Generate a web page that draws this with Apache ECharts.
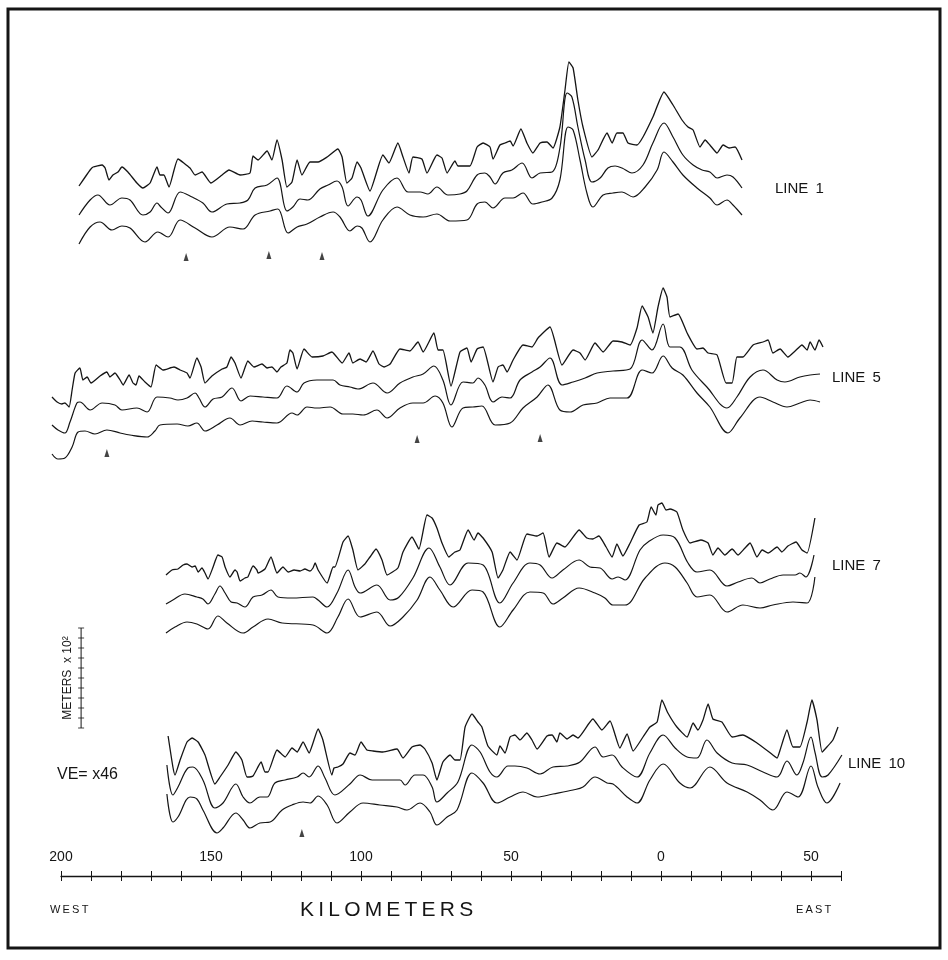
<!DOCTYPE html>
<html>
<head>
<meta charset="utf-8">
<script src="https://cdn.jsdelivr.net/npm/echarts@6/dist/echarts.min.js"></script>
<style>
  html, body { margin: 0; padding: 0; background: #fff; }
  #chart { width: 948px; height: 960px; }
</style>
</head>
<body>
<div id="chart"></div>
<script>
// Each profile: [km from 0 (west negative), relief in m relative to the profile start]
const line1Top = [[-194,0],[-190.3,160],[-189.3,190],[-186.3,210],[-185.3,180],[-184,60],[-182.7,110],[-181,140],[-179.7,190],[-177.7,140],[-174.7,30],[-172.7,-20],[-170.3,30],[-168,190],[-167,110],[-165.7,110],[-164,-10],[-161,270],[-157,180],[-155.3,110],[-153,140],[-150,30],[-146.3,110],[-144,160],[-140.3,110],[-137,130],[-136,300],[-134.3,260],[-131.3,350],[-129.7,260],[-128,460],[-126.3,260],[-124.7,-10],[-123,40],[-121.3,260],[-119.7,110],[-117,240],[-114.3,240],[-111.3,290],[-107.7,370],[-106.3,290],[-104.7,30],[-103,80],[-101.3,240],[-100,180],[-97,-50],[-92.7,310],[-90.7,230],[-87.7,430],[-86,290],[-84,130],[-82.7,290],[-79.7,270],[-78,130],[-74.7,310],[-73,280],[-71.3,130],[-68.7,250],[-67.7,200],[-63.7,200],[-61.3,390],[-59.3,430],[-57,390],[-56,270],[-53.7,410],[-52,430],[-50.3,450],[-49.3,400],[-46.7,570],[-44.7,430],[-42.7,330],[-40.3,430],[-38,440],[-36,380],[-33.7,590],[-32,960],[-30.7,1240],[-29.3,1180],[-27.7,860],[-26,590],[-23,290],[-21,360],[-18,530],[-16.3,430],[-14.7,530],[-12.7,530],[-11,430],[-8,410],[-6,490],[-2.7,690],[1,940],[4,810],[7,660],[9,590],[10.7,560],[13,390],[14.7,460],[16.3,410],[18.7,330],[20.7,410],[22.7,380],[24.7,390],[27,260]];
const line1Mid = [[-194,0],[-190.3,150],[-187.7,200],[-183.7,100],[-179.7,170],[-177,150],[-172.7,0],[-170.3,30],[-168,120],[-166.7,80],[-164.3,20],[-160.3,230],[-156.3,180],[-152.7,120],[-149.7,30],[-144.7,110],[-140.3,120],[-137.7,150],[-135.3,270],[-131.3,300],[-128,370],[-124.7,40],[-122.7,80],[-120.3,160],[-117.7,150],[-113.7,260],[-111,300],[-108,340],[-106.3,280],[-104.3,90],[-101.3,180],[-100,150],[-97.7,-10],[-92.7,250],[-88,370],[-84.3,230],[-80.3,230],[-77.7,210],[-74.7,280],[-71,200],[-67,210],[-64.7,240],[-61.3,400],[-58.7,420],[-57,380],[-55.3,310],[-52.7,420],[-49.7,450],[-46.3,520],[-43,370],[-40.3,420],[-36.3,430],[-33.7,670],[-31.3,1220],[-29.7,1180],[-27.7,880],[-25.3,550],[-23,330],[-20.3,370],[-17.7,470],[-15.3,490],[-13,470],[-9.7,420],[-6,500],[-2.7,720],[1,920],[4,780],[7.3,600],[10.7,500],[13.7,450],[16.3,430],[18.7,370],[22,400],[24,380],[27,270]];
const line1Low = [[-194,0],[-190.3,170],[-187,220],[-183,140],[-179.7,180],[-177,160],[-172,20],[-167.7,120],[-164.3,70],[-160.3,240],[-155.3,160],[-149.7,70],[-143.7,170],[-139.3,150],[-135.3,290],[-130.3,330],[-127.7,350],[-124.3,110],[-121.3,170],[-118,200],[-113.7,270],[-109.3,320],[-107,270],[-103.7,130],[-101.3,180],[-99.7,160],[-97,20],[-92.7,240],[-88,370],[-83.7,290],[-79.3,270],[-74.7,300],[-70.3,230],[-64.7,240],[-61.3,400],[-58.7,420],[-56,360],[-52,460],[-49.3,460],[-46,510],[-42.7,400],[-39.7,420],[-36.3,460],[-33.7,640],[-31,1170],[-29.3,1140],[-27,840],[-24.7,510],[-22.7,370],[-19.3,490],[-16,510],[-13,520],[-9.3,470],[-5.3,570],[-1.3,740],[1,920],[4,820],[7.3,690],[12,560],[16.3,460],[18.7,390],[22,440],[24,390],[27,290]];

const line5Top = [[-203,0],[-201.3,-50],[-199.7,-70],[-198.7,-60],[-197.3,-100],[-196.3,70],[-195.3,240],[-193.7,290],[-192.7,170],[-191.3,200],[-190,140],[-187,210],[-184.7,250],[-183.7,200],[-182,240],[-180.3,170],[-179.3,120],[-177.3,220],[-176,140],[-175,120],[-174,210],[-172,150],[-170,100],[-168.3,320],[-166,270],[-162.3,300],[-160.3,270],[-158,240],[-157,190],[-154.7,390],[-153.3,300],[-152,140],[-149.7,210],[-146.3,280],[-144.7,300],[-143.3,400],[-142,340],[-140,190],[-137.7,360],[-135.7,300],[-133,330],[-131.3,290],[-129.7,300],[-128,250],[-126.7,300],[-124.7,340],[-123.7,470],[-122.7,440],[-121.3,280],[-119,480],[-116.3,400],[-112.7,410],[-109.7,450],[-106.3,340],[-104,440],[-102.7,340],[-100.3,380],[-98.3,350],[-96,460],[-94,330],[-92.3,300],[-90.3,330],[-87,480],[-83.7,460],[-81,550],[-79.3,450],[-75.7,640],[-74.3,470],[-72.7,470],[-70,110],[-67,450],[-64.7,490],[-63.3,350],[-61.3,480],[-59.3,500],[-56,150],[-54.3,300],[-52.7,320],[-51.3,250],[-49.3,370],[-46,520],[-43,500],[-41,590],[-37,700],[-33,320],[-29.3,470],[-27,440],[-25.3,370],[-22,540],[-19.3,450],[-16,560],[-13,550],[-10.3,520],[-8,690],[-6.3,910],[-4.3,800],[-2.7,640],[-1,900],[0.7,1090],[2,1000],[3,800],[5.7,830],[8.7,640],[12,480],[14,490],[15.7,440],[18.7,420],[21.7,140],[23.7,140],[25.3,400],[27.3,400],[30.7,520],[34,550],[35.7,570],[37.3,440],[39.7,480],[42.3,400],[44.7,460],[47,520],[48.7,470],[49.7,550],[51.3,470],[52.7,570],[54,500]];
const line5Mid = [[-203,0],[-201,-50],[-198.7,-80],[-197,30],[-194.7,220],[-193.7,230],[-190.3,150],[-186.3,220],[-182,200],[-179.7,150],[-174.7,170],[-171.3,130],[-168,280],[-163.7,270],[-161,250],[-158,270],[-155.3,320],[-154,270],[-152,180],[-149.3,260],[-146.3,280],[-143,370],[-140,240],[-137,290],[-132.7,280],[-128,270],[-124.7,390],[-121.3,330],[-119,420],[-114.7,450],[-109.3,450],[-107,400],[-103.7,380],[-101,360],[-96,420],[-91.3,320],[-87,420],[-82.7,480],[-79.3,510],[-75.7,590],[-72.7,450],[-70,200],[-66,430],[-62.7,420],[-61,470],[-58.7,400],[-56,230],[-53,280],[-50.3,270],[-47,450],[-43,530],[-40.3,580],[-37,670],[-33,400],[-29.3,430],[-25.3,470],[-21.3,520],[-16,540],[-10.3,560],[-6.3,850],[-3,750],[0.7,1010],[3,780],[6.3,780],[10.3,550],[15.3,380],[22,170],[25.3,280],[29.7,480],[34,550],[38.7,450],[41.3,430],[46.3,480],[49.7,500],[53,510]];
const line5Low = [[-203,0],[-201,-50],[-198.7,-40],[-196.3,70],[-194.3,220],[-192,230],[-188.7,200],[-184.7,240],[-180.3,210],[-177,190],[-171.3,170],[-168.7,230],[-167,290],[-161.3,300],[-157.7,280],[-154.7,310],[-152,230],[-148,290],[-143.7,360],[-140.3,290],[-136.3,330],[-132.7,320],[-128,310],[-123,410],[-121.3,390],[-118,470],[-114.7,460],[-110.3,470],[-106,400],[-102.7,400],[-99.3,390],[-94.7,440],[-91.3,360],[-87,460],[-82.7,510],[-79.3,510],[-75.3,580],[-72.7,510],[-69.7,270],[-66,460],[-62.7,470],[-59.7,480],[-55.3,290],[-50.3,310],[-46,460],[-41.3,570],[-37.7,690],[-33.7,440],[-30.3,420],[-26,490],[-21.3,510],[-17,560],[-11.3,560],[-6.3,840],[-3,810],[0.7,980],[3.7,860],[7.3,790],[12,610],[16.3,470],[22.3,210],[26.3,360],[33,570],[37.3,520],[42,470],[46.3,510],[49.7,540],[53,520]];

const line7Top = [[-165,0],[-163,50],[-161,60],[-159.3,100],[-158,110],[-156.3,80],[-155.3,90],[-154.3,30],[-153,70],[-152,20],[-151,-40],[-149.3,80],[-147.7,200],[-146.3,180],[-145.3,80],[-143.7,-20],[-142,50],[-141.3,30],[-140.3,-60],[-138.7,-30],[-137.7,-20],[-136,90],[-134.7,50],[-134.3,20],[-132,60],[-130,180],[-128,20],[-126,80],[-124.3,30],[-122.3,50],[-120.3,40],[-118.7,60],[-117,40],[-116,70],[-115.3,120],[-114.3,50],[-111.3,-80],[-109.3,80],[-108.7,80],[-106,330],[-104.3,390],[-102.7,250],[-101,50],[-98.7,110],[-97,180],[-95,260],[-93,150],[-91.3,0],[-87.7,70],[-86,230],[-83,380],[-80.7,260],[-78,600],[-76.3,570],[-74.7,470],[-73,320],[-70.7,180],[-68.7,230],[-67,250],[-64.3,450],[-62.3,350],[-61,420],[-59.3,370],[-56.3,230],[-54.3,-30],[-52.7,50],[-50.3,230],[-48,150],[-44.7,410],[-41.3,390],[-39.3,420],[-37.3,180],[-34.7,320],[-32,280],[-27.3,450],[-24.7,370],[-22.7,360],[-20.7,390],[-18.3,280],[-16.3,180],[-14.7,310],[-12.7,190],[-10.3,320],[-7.3,500],[-4.7,530],[-3.3,680],[-1.7,600],[-1,700],[0.3,720],[1.7,650],[3,660],[5.3,630],[7.3,450],[9.7,320],[13.3,350],[15.7,320],[17.3,200],[19,270],[21.3,200],[23.7,260],[25.7,200],[28,270],[29.7,320],[32,180],[33.7,250],[35.7,220],[38.7,280],[40.3,230],[42.3,290],[45,330],[47,250],[48.7,220],[51.3,570]];
const line7Mid = [[-165,0],[-162.7,40],[-158.7,100],[-154.7,70],[-152.7,50],[-151,0],[-148.7,100],[-147,180],[-145.3,110],[-143.3,20],[-141.3,10],[-138.7,-30],[-136,70],[-133,90],[-130,140],[-127.7,70],[-123,60],[-116,70],[-114.3,40],[-111.3,-30],[-108,110],[-104.3,340],[-102,170],[-100.3,110],[-94.7,190],[-90.3,40],[-87.3,70],[-82.7,260],[-77.3,560],[-73.7,370],[-70.3,190],[-64.3,410],[-59.3,390],[-53.7,10],[-49.3,210],[-43.7,410],[-40.3,390],[-36.3,260],[-32.7,340],[-27.3,440],[-23.7,370],[-20.3,360],[-16.3,250],[-14.3,270],[-12,240],[-7,540],[-4.3,620],[0.7,690],[4.7,660],[9,410],[12,320],[16.3,340],[22,180],[25.7,220],[30.3,260],[33,210],[36.3,250],[40.7,290],[44.7,290],[46.3,310],[48.3,270],[51,490]];
const line7Low = [[-165,0],[-162,60],[-158,110],[-154.7,90],[-151,40],[-147.7,170],[-144.7,100],[-139.3,0],[-136,60],[-131,140],[-126.3,100],[-116,80],[-111.3,0],[-107.7,160],[-104.3,340],[-100.3,160],[-94.7,210],[-90.3,70],[-86,160],[-81.3,330],[-77,560],[-73.7,430],[-69.3,260],[-63,430],[-59.3,410],[-53.7,60],[-49.3,230],[-43.7,410],[-39.3,400],[-36,290],[-32.7,350],[-27.3,450],[-22,400],[-18.7,350],[-16,280],[-12,280],[-5.3,550],[1.3,700],[4.7,660],[8.7,500],[12,360],[16.3,380],[22,210],[27.3,280],[33,250],[37.3,280],[44,310],[48.7,300],[51.3,560]];

const line10Top = [[-164.3,0],[-162.7,-310],[-162,-390],[-160.3,-240],[-158,-60],[-156.3,-20],[-154.3,-60],[-152,-190],[-148.7,-480],[-147,-410],[-144.3,-290],[-141.7,-160],[-139.7,-240],[-138,-410],[-136,-400],[-133.3,-260],[-132,-360],[-131,-360],[-128,-140],[-125.3,-210],[-123,-120],[-121.3,-160],[-119.3,-60],[-117.3,-170],[-116,-70],[-114.3,70],[-112.7,-40],[-109.7,-390],[-109,-320],[-107.7,-310],[-106,-280],[-103.7,-170],[-102,-190],[-100,-60],[-98,-140],[-96,-150],[-92.7,-160],[-88,-130],[-86,-220],[-83,-110],[-80.3,-90],[-78.7,-130],[-76.3,-270],[-74.7,-440],[-72.7,-260],[-70.3,-190],[-68.7,-240],[-67,-240],[-65.3,90],[-63,220],[-61,140],[-59.7,90],[-57.7,-100],[-54.7,-190],[-53.7,-100],[-52,-170],[-50.3,-10],[-48.7,10],[-47,-40],[-44.7,30],[-43,-40],[-41.3,-130],[-38,0],[-36.3,10],[-34.7,-60],[-33.7,30],[-31.3,-30],[-29.3,10],[-27.7,-20],[-22.7,170],[-19.7,60],[-17,150],[-13.7,-120],[-11.3,20],[-9.3,-150],[-6,-10],[-3.7,90],[-1.3,140],[0.3,360],[2.3,230],[5.3,90],[8.7,-10],[10.7,130],[12.3,60],[14,160],[15.7,320],[17.3,170],[20.3,140],[23.7,-10],[27.3,10],[32,-70],[37.3,-190],[38.7,-220],[39.7,-140],[42,60],[44,-110],[46.3,-110],[48.7,140],[50.3,360],[52,160],[53.7,-160],[55.3,-110],[57.3,-40],[59,90]];
const line10Mid = [[-164.7,0],[-162.7,-300],[-161,-220],[-157.7,-30],[-156,-20],[-152.7,-150],[-148.7,-430],[-146,-380],[-141.7,-190],[-139.3,-320],[-137,-380],[-133.7,-320],[-131.3,-320],[-128.7,-180],[-125.3,-150],[-121.3,-120],[-119.3,-80],[-117.3,-120],[-114.3,-10],[-112,-130],[-108.7,-300],[-103.7,-190],[-100.3,-100],[-96.3,-150],[-92.7,-150],[-87,-150],[-85.3,-200],[-82,-100],[-79.3,-100],[-76.3,-220],[-74.7,-370],[-71.3,-280],[-67.7,-170],[-63,200],[-60.3,130],[-57,-70],[-54.7,-120],[-51,-10],[-48.7,-10],[-44.7,-30],[-40.3,-90],[-36,-20],[-31.3,-10],[-27,30],[-22,180],[-19.3,80],[-16.3,100],[-13,-20],[-8,-120],[-3.7,120],[0.7,300],[4.7,170],[8.7,80],[12,70],[15.3,250],[18.7,120],[23.7,20],[28.7,0],[34,-70],[38.7,-120],[42,40],[45.3,-100],[47.3,20],[50,280],[51.3,130],[53.7,-120],[55.7,-100],[60.3,100]];
const line10Low = [[-164.7,0],[-162.7,-280],[-161,-230],[-157,-30],[-154.7,-50],[-152.7,-160],[-148,-390],[-146,-340],[-141.7,-190],[-139.3,-260],[-137,-340],[-133.7,-290],[-130.3,-280],[-126.3,-160],[-123,-110],[-119.3,-80],[-117,-90],[-114.3,-20],[-111.3,-110],[-108,-290],[-103.7,-180],[-99.3,-90],[-93.7,-110],[-88,-130],[-84.7,-160],[-80.3,-90],[-77,-180],[-74.7,-310],[-71.3,-230],[-68,-160],[-63,210],[-59.3,110],[-54.7,-90],[-50.3,-30],[-46,20],[-41.3,-30],[-36,0],[-29.3,40],[-26,70],[-22,170],[-18,110],[-16,100],[-11.3,-30],[-8,-90],[-3.7,140],[0.7,300],[6.3,110],[9.7,60],[16.3,270],[22,110],[28.7,20],[33,-60],[37.3,-160],[42,20],[45.7,-30],[50,280],[52.3,70],[55.3,-90],[59.7,110]];

// where each profile starts, m above the bottom of the figure
const offsets1 = [6900, 6610, 6320];
const offsets5 = [4790, 4510, 4220];
const offsets7 = [3010, 2720, 2430];
const offsets10 = [1400, 1110, 820];

// small triangles under the profiles
const markers1 = [[-158.3, 6190], [-130.7, 6210], [-113, 6200]];
const markers5 = [[-184.7, 4230], [-81.3, 4370], [-40.3, 4380]];
const markers10 = [[-119.7, 430]];

// vertical scale, 100 m steps
const scaleKm = -193.3;
const scaleTicks = [1480, 1580, 1680, 1780, 1880, 1980, 2080, 2180, 2280, 2380, 2480];

const lineLabels = ['LINE\u2009 1', 'LINE\u2009 5', 'LINE\u2009 7', 'LINE\u2009 10'];

const chart = echarts.init(document.getElementById('chart'), null, { renderer: 'canvas' });

const ink = '#151515';
const font = '"Liberation Sans", Arial, sans-serif';

function profile(pts, offset, smooth, width) {
  return {
    type: 'line',
    xAxisIndex: 0,
    yAxisIndex: 0,
    data: pts.map((p) => [p[0], p[1] + offset]),
    showSymbol: false,
    smooth: smooth,
    lineStyle: { color: ink, width: width },
    silent: true,
    animation: false,
  };
}

function group(top, mid, low, offs) {
  return [
    profile(top, offs[0], 0.15, 1.3),
    profile(mid, offs[1], 0.35, 1.2),
    profile(low, offs[2], 0.35, 1.2),
  ];
}

function marks(pts) {
  return {
    type: 'scatter',
    xAxisIndex: 0,
    yAxisIndex: 0,
    data: pts,
    symbol: 'triangle',
    symbolSize: [5, 8],
    itemStyle: { color: ink },
    silent: true,
    animation: false,
  };
}

const series = [
  ...group(line1Top, line1Mid, line1Low, offsets1),
  ...group(line5Top, line5Mid, line5Low, offsets5),
  ...group(line7Top, line7Mid, line7Low, offsets7),
  ...group(line10Top, line10Mid, line10Low, offsets10),
  marks(markers1),
  marks(markers5),
  marks(markers10),
  {
    type: 'line',
    xAxisIndex: 0,
    yAxisIndex: 0,
    data: [[scaleKm, scaleTicks[0]], [scaleKm, scaleTicks[scaleTicks.length - 1]]],
    showSymbol: false,
    lineStyle: { color: ink, width: 1 },
    silent: true,
    animation: false,
  },
  {
    type: 'scatter',
    xAxisIndex: 0,
    yAxisIndex: 0,
    data: scaleTicks.map((m) => [scaleKm, m]),
    symbol: 'rect',
    symbolSize: [6, 1],
    itemStyle: { color: ink },
    silent: true,
    animation: false,
  },
];

function label(text, x, y, size, extra) {
  return Object.assign({
    type: 'text',
    x: x,
    y: y,
    style: {
      text: text,
      fill: ink,
      font: size + 'px ' + font,
      textVerticalAlign: 'middle',
    },
    silent: true,
  }, extra || {});
}

chart.setOption({
  animation: false,
  backgroundColor: '#fff',
  grid: [
    { left: 31, top: 36, width: 840, height: 840 },
    { left: 61, top: 36, width: 780, height: 840 },
  ],
  xAxis: [
    { gridIndex: 0, type: 'value', min: -210, max: 70, show: false },
    {
      gridIndex: 1,
      type: 'value',
      min: -200,
      max: 60,
      interval: 10,
      position: 'bottom',
      axisLine: { lineStyle: { color: ink, width: 1.3 } },
      axisTick: { show: false },
      axisLabel: {
        inside: true,
        margin: 12,
        color: ink,
        fontFamily: font,
        fontSize: 14,
        formatter: (v) => (v % 50 === 0 ? String(Math.abs(v)) : ''),
      },
      splitLine: { show: false },
    },
    {
      // tick marks that cross the axis line
      gridIndex: 1,
      type: 'value',
      min: -200,
      max: 60,
      interval: 10,
      position: 'bottom',
      offset: -5,
      axisLine: { show: false },
      axisTick: { show: true, length: 10, lineStyle: { color: ink, width: 1 } },
      axisLabel: { show: false },
      splitLine: { show: false },
    },
  ],
  yAxis: [
    { gridIndex: 0, type: 'value', min: 0, max: 8400, show: false },
    { gridIndex: 1, type: 'value', min: 0, max: 8400, show: false },
  ],
  series: series,
  graphic: [
    {
      type: 'rect',
      shape: { x: 8, y: 9, width: 932, height: 939 },
      style: { fill: 'none', stroke: ink, lineWidth: 3 },
      silent: true,
    },
    label(lineLabels[0], 775, 189, 15),
    label(lineLabels[1], 832, 378, 15),
    label(lineLabels[2], 832, 566, 15),
    label(lineLabels[3], 848, 764, 15),
    label('W\u2009E\u2009S\u2009T', 50, 910, 11),
    label('E\u2009A\u2009S\u2009T', 796, 910, 11),
    label('K\u2009I\u2009L\u2009O\u2009M\u2009E\u2009T\u2009E\u2009R\u2009S', 300, 910, 21),
    label('VE= x46', 57, 775, 16),
    label('METERS  x 10²', 68, 678, 12, {
      rotation: Math.PI / 2,
      style: {
        text: 'METERS  x 10²',
        fill: ink,
        font: '12px ' + font,
        textAlign: 'center',
        textVerticalAlign: 'middle',
      },
    }),
  ],
});
</script>
</body>
</html>
